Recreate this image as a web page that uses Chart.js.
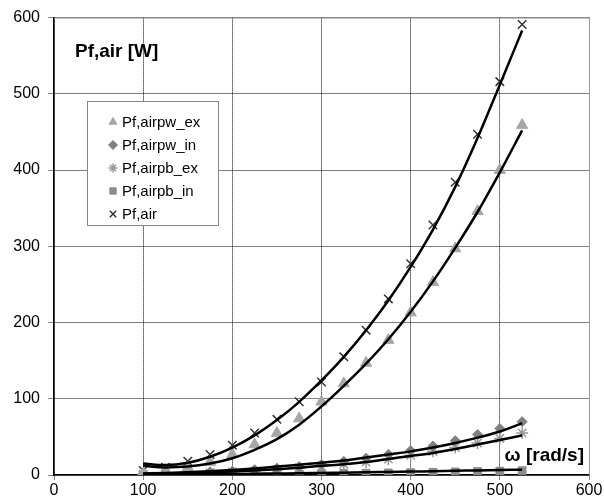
<!DOCTYPE html>
<html>
<head>
<meta charset="utf-8">
<script src="https://cdn.jsdelivr.net/npm/chart.js@4/dist/chart.umd.min.js"></script>
<style>
  html, body { margin: 0; padding: 0; background: #fff; }
  #chartCanvas { display: block; }
</style>
</head>
<body>
<canvas id="chartCanvas" width="604" height="501"></canvas>
<script>
// omega [rad/s]
const omega = [100, 125, 150, 175, 200, 225, 250, 275, 300, 325, 350, 375, 400, 425, 450, 475, 500, 525];

// measured points
const pfAir      = [6, 10, 18, 27, 39, 55, 73, 96, 122, 155, 190, 231, 277, 328, 384, 447, 516, 591];
const pfAirpwEx  = [2, 5, 10, 17, 27, 40, 55, 74, 96, 120, 147, 177, 213, 253, 297, 346, 400, 459];
const pfAirpwIn  = [1, 2, 3, 4, 5, 7, 9, 11, 14, 18, 22, 27, 32, 38, 45, 53, 61, 70];
const pfAirpbEx  = [1, 1.5, 2, 3, 4, 5, 7, 9, 11, 14, 17, 21, 26, 31, 36, 42, 48, 55];
const pfAirpbIn  = [0.2, 0.3, 0.4, 0.5, 0.7, 0.9, 1.1, 1.4, 1.7, 2, 2.3, 2.7, 3.1, 3.5, 4, 4.5, 5, 5.6];

// trend lines
const fitAir     = [15, 13, 16, 24, 36, 52, 72, 96, 124, 155, 190, 229, 273, 322, 378, 442, 512, 583];
const fitpwEx    = [12, 10, 11, 15, 22, 33, 47, 66, 90, 117, 146, 178, 214, 254, 298, 345, 397, 452];
const fitpwIn    = [2, 2.5, 3.5, 5, 6.5, 8.5, 11, 13.5, 16, 19, 23, 27, 31, 36, 42, 49, 57, 68];
const fitpbEx    = [1.5, 2, 2.5, 3.5, 4.5, 6, 7.5, 9.5, 12, 14, 17, 21, 25, 29, 34, 40, 46, 52];
const fitpbIn    = [0.5, 0.7, 0.9, 1.1, 1.4, 1.7, 2, 2.3, 2.7, 3.1, 3.5, 4, 4.5, 5, 5.5, 6, 6.5, 7];

const xTicks = [0, 100, 200, 300, 400, 500, 600];
const yTicks = [0, 100, 200, 300, 400, 500, 600];

const FONT = "'Liberation Sans', Arial, sans-serif";

function pts(ys) {
    return omega.map((x, i) => ({ x: x, y: ys[i] }));
}

function markerSet(label, ys, style, color, radius, width) {
    return {
        label: label,
        data: pts(ys),
        showLine: false,
        pointStyle: style,
        pointRadius: radius,
        pointBackgroundColor: color,
        pointBorderColor: color,
        pointBorderWidth: width,
        order: 2
    };
}

function trendSet(ys) {
    return {
        label: "",
        data: pts(ys),
        showLine: true,
        borderColor: "#000",
        borderWidth: 2.5,
        pointRadius: 0,
        cubicInterpolationMode: "monotone",
        order: 1
    };
}

const markers = [
    markerSet("Pf,airpw_ex", pfAirpwEx, "triangle", "#a6a6a6", 6.5, 1),
    markerSet("Pf,airpw_in", pfAirpwIn, "rectRot", "#808080", 5, 1),
    markerSet("Pf,airpb_ex", pfAirpbEx, "star", "#999999", 6, 1.5),
    markerSet("Pf,airpb_in", pfAirpbIn, "rect", "#8c8c8c", 5.5, 1),
    markerSet("Pf,air", pfAir, "crossRot", "#333333", 6, 1.5)
];

const trends = [fitAir, fitpwEx, fitpwIn, fitpbEx, fitpbIn].map(trendSet);

// frame on top/right, texts and the floating legend
const decor = {
    id: "decor",
    beforeDatasetsDraw(chart) {
        const ctx = chart.ctx;
        const a = chart.chartArea;
        ctx.save();
        ctx.strokeStyle = "#999";
        ctx.lineWidth = 1;
        ctx.beginPath();
        ctx.moveTo(a.left, a.top + 0.5);
        ctx.lineTo(a.right + 0.5, a.top + 0.5);
        ctx.lineTo(a.right + 0.5, a.bottom);
        ctx.stroke();
        ctx.restore();
    },
    afterDatasetsDraw(chart) {
        const ctx = chart.ctx;
        ctx.save();
        ctx.fillStyle = "#000";
        ctx.textBaseline = "alphabetic";

        ctx.font = "bold 19px " + FONT;
        ctx.textAlign = "left";
        ctx.fillText("Pf,air [W]", 75, 57);

        ctx.textAlign = "right";
        ctx.fillText("\u03c9 [rad/s]", 584, 461);

        // legend box
        ctx.fillStyle = "#fff";
        ctx.fillRect(87, 101, 131, 124);
        ctx.strokeStyle = "#888";
        ctx.lineWidth = 1;
        ctx.strokeRect(87.5, 101.5, 131, 124);

        ctx.font = "15px " + FONT;
        ctx.textAlign = "left";
        ctx.textBaseline = "middle";
        markers.forEach((ds, i) => {
            const y = 122 + i * 23;
            ctx.fillStyle = ds.pointBackgroundColor;
            ctx.strokeStyle = ds.pointBorderColor;
            ctx.lineWidth = ds.pointBorderWidth;
            Chart.helpers.drawPoint(ctx, {
                pointStyle: ds.pointStyle,
                radius: 4.5,
                rotation: 0,
                borderWidth: ds.pointBorderWidth
            }, 113, y);
            ctx.fillStyle = "#000";
            ctx.fillText(ds.label, 122, y + 1);
        });
        ctx.restore();
    }
};

new Chart(document.getElementById("chartCanvas").getContext("2d"), {
    type: "scatter",
    data: { datasets: trends.concat(markers) },
    options: {
        responsive: false,
        animation: false,
        layout: { padding: { top: 17, right: 15, left: 0, bottom: 0 } },
        plugins: {
            legend: { display: false },
            tooltip: { enabled: false }
        },
        scales: {
            x: {
                type: "linear",
                min: 0,
                max: 600,
                afterBuildTicks: s => { s.ticks = xTicks.map(v => ({ value: v })); },
                afterFit: s => { s.height = 26; },
                ticks: { font: { family: FONT, size: 16 }, color: "#000", padding: 1, maxRotation: 0 },
                grid: { color: "#000", lineWidth: 1, tickLength: 5, tickColor: "#888", tickBorderDash: [] },
                border: { color: "#000", width: 1.5, dash: [1, 1] }
            },
            y: {
                type: "linear",
                min: 0,
                max: 600,
                afterBuildTicks: s => { s.ticks = yTicks.map(v => ({ value: v })); },
                afterFit: s => { s.width = 54; },
                ticks: { font: { family: FONT, size: 16 }, color: "#000", padding: 8 },
                grid: { color: "#000", lineWidth: 1, tickLength: 6, tickColor: "#888", tickBorderDash: [] },
                border: { color: "#000", width: 1.5, dash: [1, 1] }
            }
        }
    },
    plugins: [decor]
});
</script>
</body>
</html>
